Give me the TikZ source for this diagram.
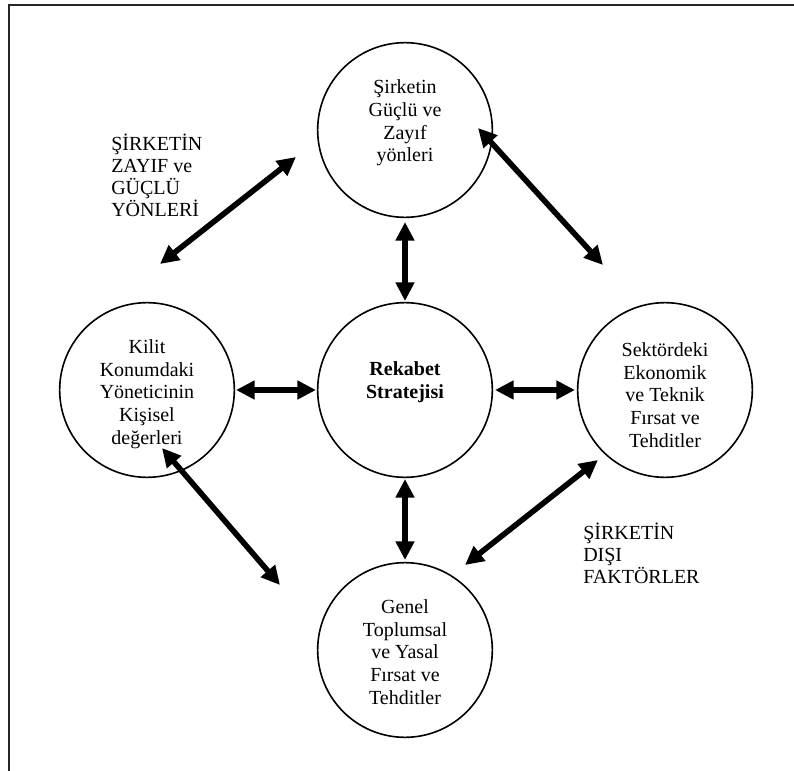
\documentclass[tikz,border=0pt]{standalone}
\usepackage{fontspec}
\setmainfont{Liberation Serif}
\usetikzlibrary{arrows.meta}
\begin{document}
\begin{tikzpicture}[x=0.75pt,y=-0.75pt,
  circ/.style={draw, circle, line width=1.2pt, minimum size=131pt, inner sep=0pt},
  txt/.style={align=center, inner sep=0pt, font=\fontsize{15}{17}\selectfont},
  sidetxt/.style={align=left, inner sep=0pt, anchor=west, font=\fontsize{15}{16.5}\selectfont},
  link/.style={line width=4.2pt, {Triangle[length=14pt,width=13.5pt]}-{Triangle[length=14pt,width=13.5pt]}}]
\useasboundingbox (0,0) rectangle (794,771);
% open frame: top and left edges only
\draw[line width=1.6pt, black!85] (794,5) -- (9,5) -- (9,771);

% circles
\node[circ] (top) at (405,130) {};
\node[circ] (mid) at (405,390) {};
\node[circ] (lft) at (147,390) {};
\node[circ] (rgt) at (665,390) {};
\node[circ] (bot) at (405,650) {};

% circle texts
\node[txt] (ttop) at (405,123) {Şirketin\\Güçlü ve\\Zayıf\\yönleri};
\node[txt, font=\fontsize{15}{17}\selectfont\bfseries] (tmid) at (405,382) {Rekabet\\Stratejisi};
\node[txt] (tlft) at (147,394) {Kilit\\Konumdaki\\Yöneticinin\\Kişisel\\değerleri};
\node[txt] (trgt) at (665,395) {Sektördeki\\Ekonomik\\ve Teknik\\Fırsat ve\\Tehditler};
\node[txt] (tbot) at (405,652) {Genel\\Toplumsal\\ve Yasal\\Fırsat ve\\Tehditler};

% side labels
\node[sidetxt] (lab1) at (111,175) {ŞİRKETİN\\ZAYIF ve\\GÜÇLÜ\\YÖNLERİ};
\node[sidetxt] (lab2) at (583,553) {ŞİRKETİN\\DIŞI\\FAKTÖRLER};

% arrow end points
\coordinate (a1) at (405,222); \coordinate (a2) at (405,301);
\coordinate (b1) at (236,390); \coordinate (b2) at (316,390);
\coordinate (c1) at (495,390); \coordinate (c2) at (575,390);
\coordinate (d1) at (405,479); \coordinate (d2) at (405,560);
\coordinate (e1) at (296,157); \coordinate (e2) at (160,264);
\coordinate (f1) at (478,128); \coordinate (f2) at (603,265);
\coordinate (g1) at (162,448); \coordinate (g2) at (280,585);
\coordinate (h1) at (598,460); \coordinate (h2) at (465,565);

\draw[link] (a1) -- (a2);
\draw[link] (b1) -- (b2);
\draw[link] (c1) -- (c2);
\draw[link] (d1) -- (d2);
\draw[link] (e1) -- (e2);
\draw[link] (f1) -- (f2);
\draw[link] (g1) -- (g2);
\draw[link] (h1) -- (h2);
\end{tikzpicture}
\end{document}
